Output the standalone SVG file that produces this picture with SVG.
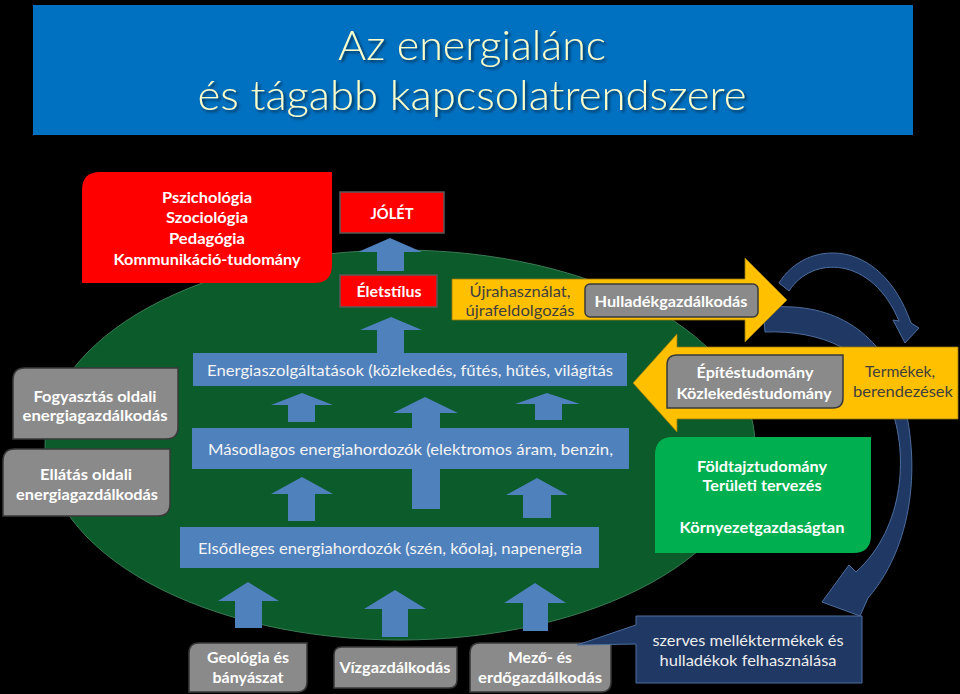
<svg xmlns="http://www.w3.org/2000/svg" width="960" height="694" viewBox="0 0 960 694">
<defs>
<style>
text{font-family:Lato,"Open Sans","Liberation Sans",sans-serif;}
.b{font-weight:700;fill:#FFFFFF;font-size:16px;text-anchor:middle;}
.r{font-weight:400;font-size:16px;text-anchor:middle;}
.bar{fill:#4F81BD;}
.bt{fill:#F4F4F4;font-size:16px;}
.up{fill:#4F81BD;}
.gray{fill:#8A8A8A;stroke:#3A3A3A;stroke-width:1.5;}
.red{fill:#FF0000;stroke:#595959;stroke-width:1.5;}
.yel{fill:#FFC000;stroke:#9A7A10;stroke-width:0.8;}
.dk{fill:#3F3F3F;}
.navy{fill:#1F3864;stroke:#4E6E9E;stroke-width:1;}
.ttl{font-size:42px;fill:#FFFFCC;text-anchor:middle;font-weight:300;}
</style>
<filter id="sh" x="-10%" y="-30%" width="120%" height="160%">
<feDropShadow dx="2" dy="2" stdDeviation="1.5" flood-color="#000000" flood-opacity="0.6"/>
</filter>
</defs>
<rect x="0" y="0" width="960" height="694" fill="#000000"/>

<g id="title">
<rect x="33" y="5" width="880" height="130" fill="#0070C0"/>
<text class="ttl" x="472" y="60" textLength="268" lengthAdjust="spacingAndGlyphs" filter="url(#sh)">Az energialánc</text>
<text class="ttl" x="472" y="110" textLength="549" lengthAdjust="spacingAndGlyphs" filter="url(#sh)">és tágabb kapcsolatrendszere</text>
</g>

<g id="ellipse">
<ellipse cx="400" cy="445" rx="355" ry="195" fill="#0B5B2B" stroke="#3C7A55" stroke-width="1"/>
</g>

<g id="connectors">
<polygon class="up" points="390,238 422,252 404,252 404,271 377,271 377,252 358,252"/>
<polygon class="up" points="391,317 422,330 404,330 404,353 377,353 377,330 360,330"/>
<polygon class="up" points="302,393 333,405 315,405 315,422 288,422 288,405 271,405"/>
<polygon class="up" points="425,397 458,413 440,413 440,509 412,509 412,413 393,413"/>
<polygon class="up" points="547,393 580,404 562,404 562,420 535,420 535,404 515,404"/>
<polygon class="up" points="302,477 333,494 315,494 315,521 288,521 288,494 271,494"/>
<polygon class="up" points="537,478 568,495 551,495 551,518 523,518 523,495 506,495"/>
<polygon class="up" points="248,582 279,601 262,601 262,628 235,628 235,601 218,601"/>
<polygon class="up" points="395,590 426,609 408,609 408,637 382,637 382,609 364,609"/>
<polygon class="up" points="535,583 566,603 548,603 548,631 523,631 523,603 504,603"/>
<path class="navy" d="M763,308 C830,300 880,330 900,390 C920,450 918,540 868,598 L860,616 L822,602 L849,565 L856,572 C905,528 910,450 888,400 C870,350 820,330 765,332 Z"/>
<path class="navy" d="M779,283 C805,240 880,235 911,323 L919,328 L905,343 L893,320 L899,321 C872,256 812,255 789,291 Z"/>
</g>

<g id="pszichologia">
<path d="M100,172 H332 V265 Q332,283 314,283 H82 V190 Q82,172 100,172 Z" fill="#FF0000"/>
<text class="b" x="207" y="203" textLength="90" lengthAdjust="spacingAndGlyphs">Pszichológia</text>
<text class="b" x="207" y="223" textLength="82" lengthAdjust="spacingAndGlyphs">Szociológia</text>
<text class="b" x="207" y="244" textLength="76" lengthAdjust="spacingAndGlyphs">Pedagógia</text>
<text class="b" x="207" y="265" textLength="187" lengthAdjust="spacingAndGlyphs">Kommunikáció-tudomány</text>
</g>

<g id="jolet">
<rect class="red" x="340" y="192" width="104" height="41"/>
<text class="b" x="392" y="219" font-weight="600" textLength="43" lengthAdjust="spacingAndGlyphs">JÓLÉT</text>
</g>

<g id="eletstilus">
<rect class="red" x="340" y="275" width="97" height="32"/>
<text class="b" x="389" y="297" textLength="65" lengthAdjust="spacingAndGlyphs">Életstílus</text>
</g>

<g id="ujrahasznalat">
<polygon class="yel" points="452,279 745,279 745,258 787,300 745,342 745,320 452,320"/>
<text class="r dk" x="520" y="297" textLength="101" lengthAdjust="spacingAndGlyphs">Újrahasználat,</text>
<text class="r dk" x="520" y="316" textLength="109" lengthAdjust="spacingAndGlyphs">újrafeldolgozás</text>
</g>

<g id="hulladek">
<rect class="gray" x="585" y="284" width="173" height="33" rx="5"/>
<text class="b" x="671" y="307" textLength="153" lengthAdjust="spacingAndGlyphs">Hulladékgazdálkodás</text>
</g>

<g id="termekek">
<polygon class="yel" points="958,347 677,347 677,334 633,383 677,432 677,419 958,419"/>
<text class="r dk" x="900" y="377" textLength="70" lengthAdjust="spacingAndGlyphs">Termékek,</text>
<text class="r dk" x="903" y="397" textLength="100" lengthAdjust="spacingAndGlyphs">berendezések</text>
</g>

<g id="epitestudomany">
<path class="gray" d="M677,355 H843 V398 Q843,408 833,408 H667 V365 Q667,355 677,355 Z"/>
<text class="b" x="755" y="378" textLength="117" lengthAdjust="spacingAndGlyphs">Építéstudomány</text>
<text class="b" x="754" y="399" textLength="155" lengthAdjust="spacingAndGlyphs">Közlekedéstudomány</text>
</g>

<g id="fogyasztas">
<path class="gray" d="M25,368 H178 V427 Q178,439 166,439 H13 V380 Q13,368 25,368 Z"/>
<text class="b" x="95" y="402" textLength="123" lengthAdjust="spacingAndGlyphs">Fogyasztás oldali</text>
<text class="b" x="95" y="421" textLength="145" lengthAdjust="spacingAndGlyphs">energiagazdálkodás</text>
</g>

<g id="ellatas">
<path class="gray" d="M15,449 H170 V504 Q170,516 158,516 H3 V461 Q3,449 15,449 Z"/>
<text class="b" x="86" y="480" textLength="92" lengthAdjust="spacingAndGlyphs">Ellátás oldali</text>
<text class="b" x="87" y="500" textLength="142" lengthAdjust="spacingAndGlyphs">energiagazdálkodás</text>
</g>

<g id="energiaszolgaltatasok">
<rect class="bar" x="193" y="353" width="434" height="33"/>
<text class="bt" x="207" y="376" textLength="406" lengthAdjust="spacingAndGlyphs">Energiaszolgáltatások (közlekedés, fűtés, hűtés, világítás</text>
</g>

<g id="masodlagos">
<rect class="bar" x="192" y="428" width="437" height="41"/>
<text class="bt" x="208" y="455" textLength="405" lengthAdjust="spacingAndGlyphs">Másodlagos energiahordozók (elektromos áram, benzin,</text>
</g>

<g id="elsodleges">
<rect class="bar" x="180" y="527" width="419" height="41"/>
<text class="bt" x="198" y="554" textLength="384" lengthAdjust="spacingAndGlyphs">Elsődleges energiahordozók (szén, kőolaj, napenergia</text>
</g>

<g id="foldtajz">
<path d="M673,437 H871 V535 Q871,553 853,553 H655 V455 Q655,437 673,437 Z" fill="#00B050"/>
<text class="b" x="762" y="472" textLength="130" lengthAdjust="spacingAndGlyphs">Földtajztudomány</text>
<text class="b" x="762" y="491" textLength="119" lengthAdjust="spacingAndGlyphs">Területi tervezés</text>
<text class="b" x="762" y="533" textLength="165" lengthAdjust="spacingAndGlyphs">Környezetgazdaságtan</text>
</g>

<g id="geologia">
<path class="gray" d="M199,643 H307 V682 Q307,692 297,692 H189 V653 Q189,643 199,643 Z"/>
<text class="b" x="248" y="663" textLength="82" lengthAdjust="spacingAndGlyphs">Geológia és</text>
<text class="b" x="248" y="683" textLength="71" lengthAdjust="spacingAndGlyphs">bányászat</text>
</g>

<g id="vizgazdalkodas">
<path class="gray" d="M342,647 H457 V680 Q457,688 449,688 H334 V655 Q334,647 342,647 Z"/>
<text class="b" x="395" y="673" textLength="111" lengthAdjust="spacingAndGlyphs">Vízgazdálkodás</text>
</g>

<g id="mezo">
<path class="gray" d="M480,643 H611 V682 Q611,692 601,692 H470 V653 Q470,643 480,643 Z"/>
<text class="b" x="540" y="663" textLength="64" lengthAdjust="spacingAndGlyphs">Mező- és</text>
<text class="b" x="540" y="683" textLength="124" lengthAdjust="spacingAndGlyphs">erdőgazdálkodás</text>
</g>

<g id="szerves">
<path class="navy" d="M636,616 H862 V683 H636 V644 L577,645 L636,625 Z"/>
<text class="r" x="748" y="646" fill="#EDEDED" textLength="191" lengthAdjust="spacingAndGlyphs">szerves melléktermékek és</text>
<text class="r" x="748" y="666" fill="#EDEDED" textLength="177" lengthAdjust="spacingAndGlyphs">hulladékok felhasználása</text>
</g>
</svg>
